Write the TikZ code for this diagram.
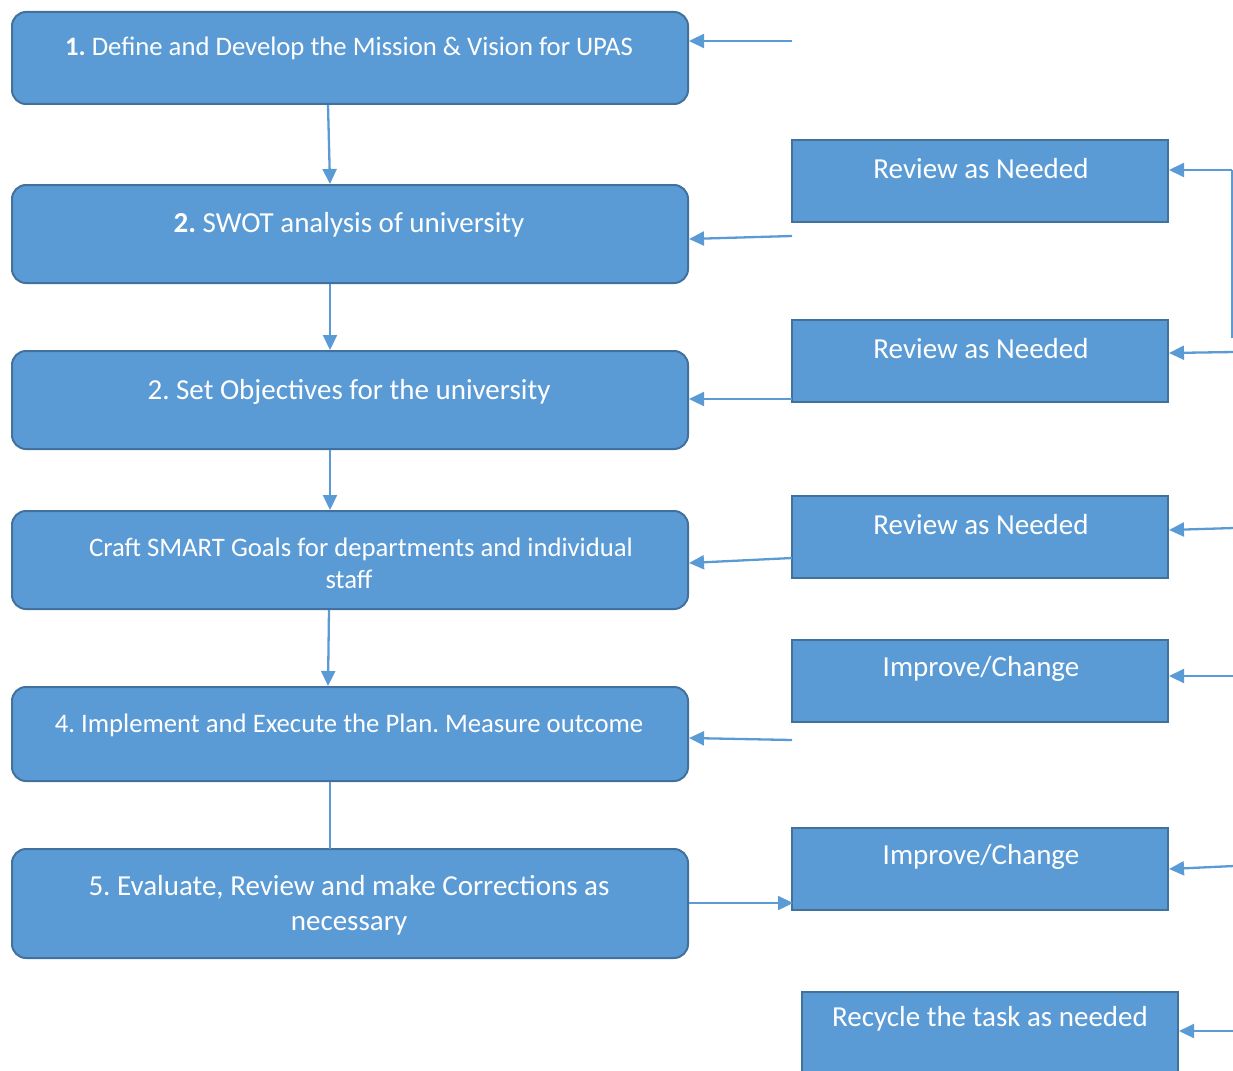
\documentclass[tikz,border=0pt]{standalone}
\usepackage{fontspec}
\setmainfont{Carlito}
\usetikzlibrary{arrows.meta}
\definecolor{boxfill}{HTML}{5B9BD5}
\definecolor{boxedge}{HTML}{41719C}
\definecolor{arr}{HTML}{5B9BD5}
\begin{document}
\frenchspacing
\begin{tikzpicture}[x=1pt,y=-1pt,
  stepbox/.style={draw=boxedge,fill=boxfill,line width=2pt,rounded corners=14pt},
  sidebox/.style={draw=boxedge,fill=boxfill,line width=2pt},
  txt/.style={text=white,font=\fontsize{29}{35}\selectfont,align=center,inner sep=0pt},
  small/.style={font=\fontsize{26.7}{32}\selectfont},
  conn/.style={draw=arr,line width=2.3pt},
  arrow/.style={conn,-{Triangle[length=15pt,width=14pt]}}]
\useasboundingbox (0,0) rectangle (1233,1070);
% left column boxes
\draw[stepbox] (12,12) rectangle (688,104);
\draw[stepbox] (12,185) rectangle (688,283);
\draw[stepbox] (12,351) rectangle (688,449);
\draw[stepbox] (12,511) rectangle (688,609);
\draw[stepbox] (12,687) rectangle (688,781);
\draw[stepbox] (12,849) rectangle (688,958);
\coordinate (b1s) at (328,105); \coordinate (b2n) at (330,184);
\coordinate (b2s) at (330,284); \coordinate (b3n) at (330,350);
\coordinate (b3s) at (330,450); \coordinate (b4n) at (330,510);
\coordinate (b4s) at (329,610); \coordinate (b5n) at (328,686);
\coordinate (b5s) at (330,782); \coordinate (b6n) at (330,849);
\node[txt,small] (t1) at (349,48) {\textbf{1.} Define and Develop the Mission \& Vision for UPAS};
\node[txt] (t2) at (349,225) {\textbf{2.} SWOT analysis of university};
\node[txt] (t3) at (349,392) {2. Set Objectives for the university};
\node[txt,small] (t4) at (361,563) {Craft SMART Goals for departments and individual\\staff\hspace*{24pt}};
\node[txt,small] (t5) at (349,725) {4. Implement and Execute the Plan. Measure outcome};
\node[txt] (t6) at (349,905) {5. Evaluate, Review and make Corrections as\\necessary};
% right column boxes
\draw[sidebox] (792,140) rectangle (1168,222);
\draw[sidebox] (792,320) rectangle (1168,402);
\draw[sidebox] (792,496) rectangle (1168,578);
\draw[sidebox] (792,640) rectangle (1168,722);
\draw[sidebox] (792,828) rectangle (1168,910);
\draw[sidebox] (802,992) rectangle (1178,1080);
\node[txt] (r1) at (981,169) {Review as Needed};
\node[txt] (r2) at (981,349) {Review as Needed};
\node[txt] (r3) at (981,525) {Review as Needed};
\node[txt] (r4) at (981,669) {Improve/Change};
\node[txt] (r5) at (981,857) {Improve/Change};
\node[txt] (r6) at (990,1019) {Recycle the task as needed};
% vertical connectors
\draw[arrow] (b1s) -- (b2n);
\draw[arrow] (b2s) -- (b3n);
\draw[arrow] (b3s) -- (b4n);
\draw[arrow] (b4s) -- (b5n);
\draw[conn] (b5s) -- (b6n);
% horizontal connectors into left boxes
\coordinate (f1) at (792,41); \coordinate (b1e) at (689,41);
\coordinate (f2) at (792,236); \coordinate (b2e) at (689,239);
\coordinate (r2w) at (792,399); \coordinate (b3e) at (689,399);
\coordinate (r3w) at (792,558); \coordinate (b4e) at (689,563);
\coordinate (f5) at (792,740); \coordinate (b5e) at (689,738);
\coordinate (b6e) at (689,903); \coordinate (r5w) at (793,903);
\draw[arrow] (f1) -- (b1e);
\draw[arrow] (f2) -- (b2e);
\draw[arrow] (r2w) -- (b3e);
\draw[arrow] (r3w) -- (b4e);
\draw[arrow] (f5) -- (b5e);
\draw[arrow] (b6e) -- (r5w);
% right edge connectors
\coordinate (e1) at (1232,170); \coordinate (r1e) at (1169,170);
\coordinate (e1b) at (1232,338);
\coordinate (e2) at (1234,352); \coordinate (r2e) at (1169,353);
\coordinate (e3) at (1234,528); \coordinate (r3e) at (1169,530);
\coordinate (e4) at (1234,676); \coordinate (r4e) at (1169,676);
\coordinate (e5) at (1234,866); \coordinate (r5e) at (1169,869);
\coordinate (e6) at (1234,1031); \coordinate (r6e) at (1179,1031);
\draw[conn] (e1b) -- (e1);
\draw[arrow] (e1) -- (r1e);
\draw[arrow] (e2) -- (r2e);
\draw[arrow] (e3) -- (r3e);
\draw[arrow] (e4) -- (r4e);
\draw[arrow] (e5) -- (r5e);
\draw[arrow] (e6) -- (r6e);
\end{tikzpicture}
\end{document}
